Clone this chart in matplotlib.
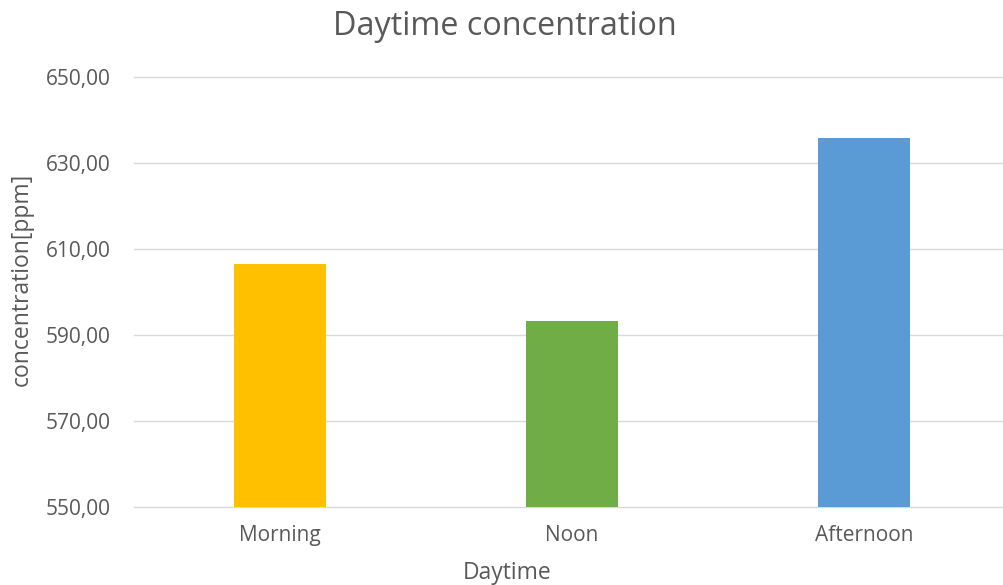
import matplotlib
matplotlib.use("Agg")
import matplotlib.pyplot as plt
from matplotlib.ticker import FuncFormatter

categories = ["Morning", "Noon", "Afternoon"]
values = [606.6, 593.3, 635.8]
colors = ["#FFC000", "#70AD47", "#5B9BD5"]
yticks = [550, 570, 590, 610, 630, 650]

plt.rcParams['font.family'] = ['Open Sans', 'DejaVu Sans']
txt = "#595959"

fig = plt.figure(figsize=(10.04, 5.85), dpi=100)
ax = fig.add_axes([134/1004, 1 - 506.7/585, 1 - 134/1004, (506.7 - 77.3)/585])

x = list(range(len(categories)))
ax.bar(x, [v - 550 for v in values], bottom=550, width=0.315, color=colors, zorder=3)
ax.set_xlim(-0.5, 2.479)
ax.set_ylim(550, 650)
ax.set_yticks(yticks)
ax.yaxis.set_major_formatter(FuncFormatter(lambda v, p: f"{v:.2f}".replace(".", ",")))
ax.set_xticks(x)
ax.set_xticklabels(categories)
ax.grid(axis='y', color="#d9d9d9", linewidth=1.0, zorder=0)
for gl in ax.get_ygridlines():
    gl.set_clip_on(False)
for s in ax.spines.values():
    s.set_visible(False)
ax.tick_params(axis='both', length=0, labelsize=15, colors=txt)
ax.tick_params(axis='y', pad=17)
ax.tick_params(axis='x', pad=13)

fig.text(505/1004, 1 - 35/585, "Daytime concentration", ha='center', va='baseline',
         fontsize=23.3, color=txt)
fig.text(507/1004, 1 - 579/585, "Daytime", ha='center', va='baseline', fontsize=16.5, color=txt)
fig.text(22/1004, 1 - 279/585, "concentration[ppm]", ha='center', va='center',
         rotation=90, fontsize=16.5, color=txt)

fig.savefig("out.png", dpi=100)
